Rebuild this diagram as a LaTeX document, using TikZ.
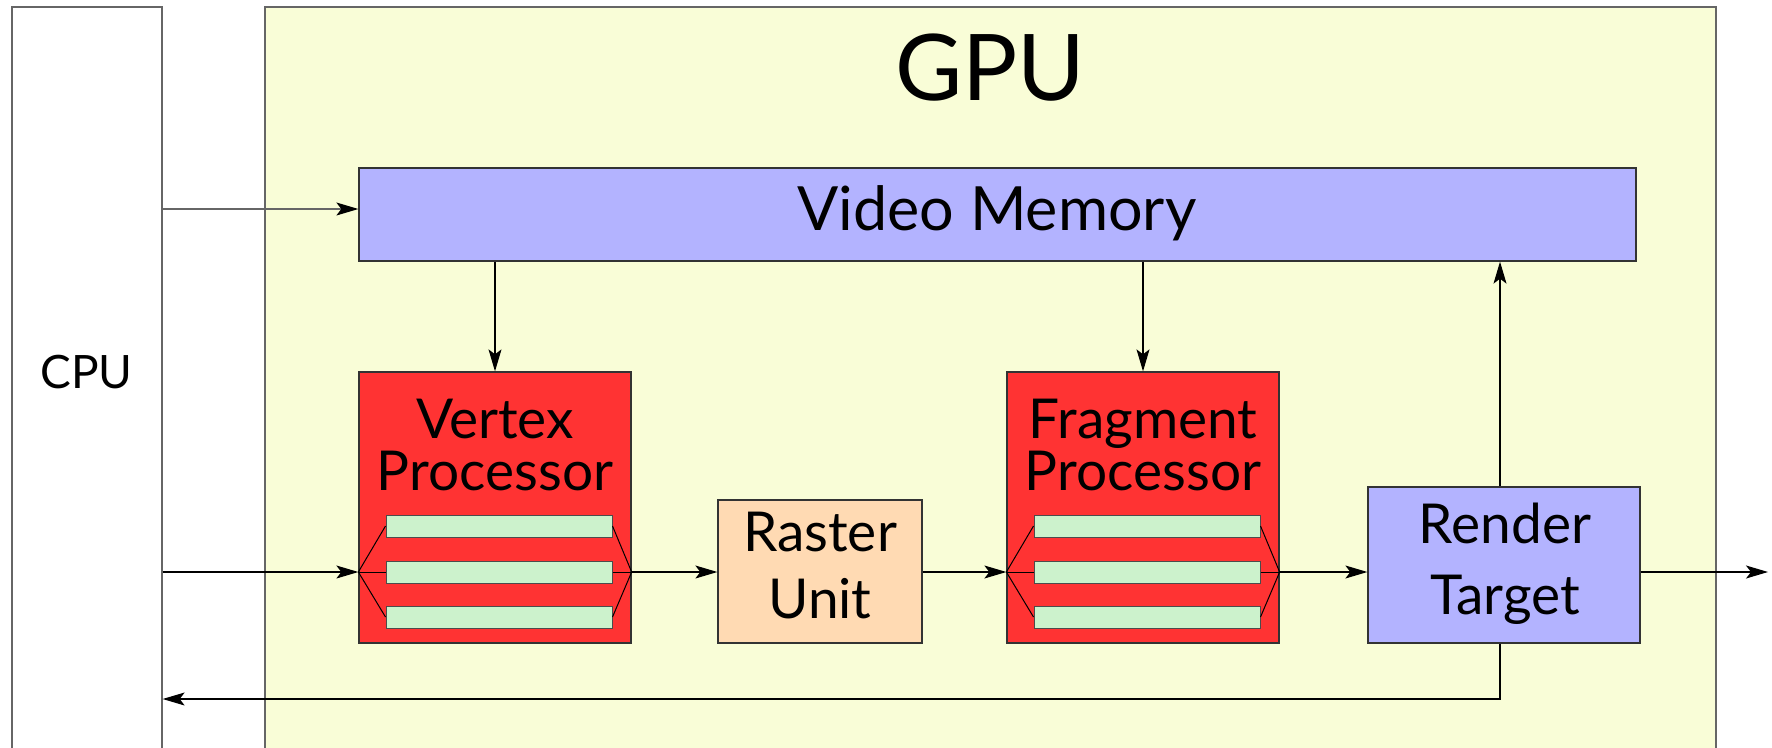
\documentclass[tikz,border=0pt]{standalone}
\usepackage{fontspec}
\setmainfont{Lato}
\usetikzlibrary{arrows.meta,calc}
\definecolor{gpuyellow}{HTML}{F9FDD7}
\definecolor{vmblue}{HTML}{B3B3FF}
\definecolor{procred}{HTML}{FF3333}
\definecolor{peach}{HTML}{FFDAB3}
\definecolor{bargreen}{HTML}{CCF2CC}
\tikzset{
  outerbox/.style={draw=black!60,line width=1.3pt,inner sep=0pt},
  unitbox/.style={draw=black!80,line width=1.3pt,inner sep=0pt},
  barbox/.style={draw=black!70,fill=bargreen,line width=1pt,inner sep=0pt,minimum width=226pt,minimum height=22pt},
  lbl/.style={inner sep=0pt,anchor=base,font=\fontsize{55}{55}\selectfont},
  arr/.style={line width=1.2pt,-{Stealth[length=22pt,width=13pt,inset=5pt,color=black]}},
  ln/.style={line width=1pt},
}
\begin{document}
\begin{tikzpicture}[x=1pt,y=-1pt]
\useasboundingbox (0,0) rectangle (1772,747);
\clip (0,0) rectangle (1772,747);
% CPU and GPU panels
\node[outerbox,fill=white,minimum width=150pt,minimum height=753pt] (cpu) at (87,383.5) {};
\node[inner sep=0pt,anchor=base,font=\fontsize{46}{46}\selectfont] (cputext) at (86.5,388) {CPU};
\node[outerbox,fill=gpuyellow,minimum width=1451pt,minimum height=753pt] (gpu) at (990.5,383.5) {};
\node[inner sep=0pt,anchor=base,font=\fontsize{92}{92}\selectfont] (gputext) at (990.5,100) {GPU};
% Video memory
\node[unitbox,fill=vmblue,minimum width=1277pt,minimum height=93pt] (vm) at (997.5,214.5) {};
\node[inner sep=0pt,anchor=base,font=\fontsize{61}{61}\selectfont] (vmtext) at (997,230) {Video Memory};
% Vertex processor
\node[unitbox,fill=procred,minimum width=272pt,minimum height=271pt] (vp) at (495,507.5) {};
\node[lbl] (vpA) at (495,438) {Vertex};
\node[lbl] (vpB) at (495,490) {Processor};
\node[barbox] (vb1) at (499,526) {};
\node[barbox] (vb2) at (499,572) {};
\node[barbox] (vb3) at (499,617) {};
% Raster unit
\node[unitbox,fill=peach,minimum width=204pt,minimum height=143pt] (ru) at (820,571.5) {};
\node[lbl] (ruA) at (820,551) {Raster};
\node[lbl] (ruB) at (820,618) {Unit};
% Fragment processor
\node[unitbox,fill=procred,minimum width=272pt,minimum height=271pt] (fp) at (1143,507.5) {};
\node[lbl] (fpA) at (1143,438) {Fragment};
\node[lbl] (fpB) at (1143,490) {Processor};
\node[barbox] (fb1) at (1147,526) {};
\node[barbox] (fb2) at (1147,572) {};
\node[barbox] (fb3) at (1147,617) {};
% Render target
\node[unitbox,fill=vmblue,minimum width=272pt,minimum height=156pt] (rt) at (1504,565) {};
\node[lbl] (rtA) at (1505,543) {Render};
\node[lbl] (rtB) at (1505,614) {Target};
% helper coordinates
\coordinate (vpin) at (vp.west |- vb2);
\coordinate (vpout) at (vp.east |- vb2);
\coordinate (fpin) at (fp.west |- fb2);
\coordinate (fpout) at (fp.east |- fb2);
\coordinate (toprow) at (0,209);
\coordinate (backrow) at (0,699);
\coordinate (out) at (1768,572);
% fans
\foreach \b in {vb1,vb2,vb3}{\draw[ln] (vpin) -- (\b.west); \draw[ln] (\b.east) -- (vpout);}
\foreach \b in {fb1,fb2,fb3}{\draw[ln] (fpin) -- (\b.west); \draw[ln] (\b.east) -- (fpout);}
% connectors
\draw[arr,draw=black!60] (cpu.east |- toprow) -- (vm.west |- toprow);
\draw[arr] (cpu.east |- vpin) -- (vpin);
\draw[arr] (vpout) -- (ru.west |- vpout);
\draw[arr] (ru.east |- fpin) -- (fpin);
\draw[arr] (fpout) -- (rt.west |- fpout);
\draw[arr] (rt.east |- fpout) -- (out);
\draw[arr] (vm.south -| vp.north) -- (vp.north);
\draw[arr] (vm.south -| fp.north) -- (fp.north);
\draw[arr] ([xshift=-4pt]rt.north) -- ([xshift=-4pt]rt.north |- vm.south);
\draw[arr] ([xshift=-4pt]rt.south) -- ([xshift=-4pt]rt.south |- backrow) -- (cpu.east |- backrow);
\end{tikzpicture}
\end{document}
